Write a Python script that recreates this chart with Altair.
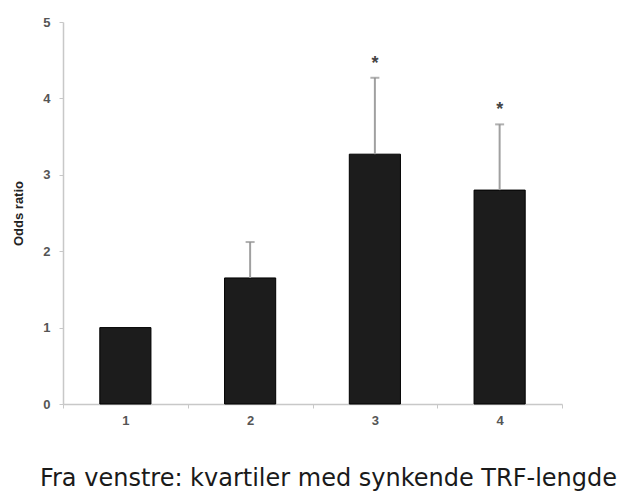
import altair as alt
import pandas as pd

quartiles = ["1", "2", "3", "4"]
odds_ratio = [1.0, 1.65, 3.27, 2.80]
upper_ci = [None, 2.12, 4.27, 3.66]
significance = ["", "", "*", "*"]

df = pd.DataFrame({"q": quartiles, "or": odds_ratio, "upper": upper_ci, "sig": significance})

x = alt.X("q:N", title=None, sort=quartiles,
          scale=alt.Scale(paddingInner=0, paddingOuter=0),
          axis=alt.Axis(labelAngle=0, tickBand="extent", domainColor="#c8c8c8", tickColor="#c8c8c8",
                        tickSize=4, labelColor="#555555", labelFont="Liberation Sans", labelFontSize=13,
                        labelFontWeight="bold", labelPadding=6, domainWidth=1.5))
y = alt.Y("or:Q", title="Odds ratio",
          scale=alt.Scale(domain=[0, 5], nice=False),
          axis=alt.Axis(values=[0, 1, 2, 3, 4, 5], format="d", grid=False, domainColor="#c8c8c8",
                        tickColor="#c8c8c8", tickSize=4, labelColor="#555555", labelFont="Liberation Sans",
                        labelFontSize=13, labelFontWeight="bold", labelPadding=9,
                        titleFont="Liberation Sans", titleFontSize=13, titleFontWeight="bold",
                        titleColor="#222222", titlePadding=17, domainWidth=1.5))

base = alt.Chart(df)
bars = base.mark_bar(width=alt.RelativeBandSize(0.41), color="#1c1c1c", stroke="#000000",
                     strokeWidth=1).encode(x=x, y=y)
errs = base.transform_filter("datum.upper != null").mark_rule(color="#a0a0a0", strokeWidth=2).encode(
    x=alt.X("q:N", sort=quartiles), y="or:Q", y2="upper:Q")
caps = base.transform_filter("datum.upper != null").mark_tick(color="#909090", size=9, thickness=2).encode(
    x=alt.X("q:N", sort=quartiles), y="upper:Q")
stars = base.mark_text(font="Liberation Sans", fontSize=18, fontWeight="bold", color="#444444",
                       baseline="middle", dy=-14).encode(
    x=alt.X("q:N", sort=quartiles), y="upper:Q", text="sig:N")

chart = alt.layer(bars, errs, caps, stars).properties(
    width=499, height=382,
    padding={"left": 63, "top": 22, "right": 60, "bottom": 89},
    autosize=alt.AutoSizeParams(type="none"),
    title=alt.TitleParams("Fra venstre: kvartiler med synkende TRF-lengde", orient="bottom",
                          font="DejaVu Sans", fontSize=24, fontWeight="normal", color="#1a1a1a",
                          anchor="middle", offset=40, dx=16),
).configure_view(stroke=None)

chart.save("out.html", embed_options={"renderer": "svg", "actions": False})
